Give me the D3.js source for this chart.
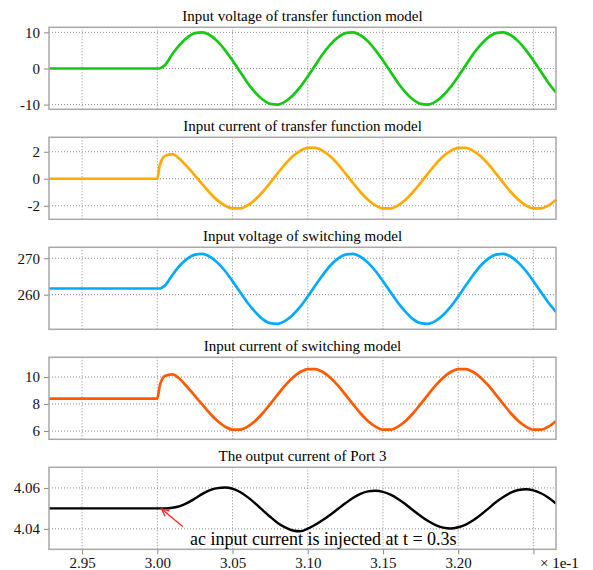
<!DOCTYPE html>
<html lang="en">
<head>
  <meta charset="UTF-8">
  <title>Waveforms</title>
  <style>
    body { margin: 0; background: #fff; }
    .grid line { stroke: #888; stroke-width: 1; stroke-dasharray: 1,2; }
    .frame { fill: none; stroke: #a8a8a8; stroke-width: 1.5; }
  </style>
</head>
<body>
  <div id="chart"></div>
  <script src="https://cdn.jsdelivr.net/npm/d3@7"></script>
  <script>
    // time axis in units of 1e-1 s
    var time = [2.928, 3.000, 3.0015, 3.003,
      3.005, 3.010, 3.015, 3.020, 3.025, 3.030, 3.035, 3.040, 3.045, 3.050,
      3.055, 3.060, 3.065, 3.070, 3.075, 3.080, 3.085, 3.090, 3.095, 3.100,
      3.105, 3.110, 3.115, 3.120, 3.125, 3.130, 3.135, 3.140, 3.145, 3.150,
      3.155, 3.160, 3.165, 3.170, 3.175, 3.180, 3.185, 3.190, 3.195, 3.200,
      3.205, 3.210, 3.215, 3.220, 3.225, 3.230, 3.235, 3.240, 3.245, 3.250,
      3.255, 3.260, 3.265];

    var vinTf = [0, 0, 0, 0.3,
      0.9, 4.0, 6.6, 8.6, 9.8, 10.0, 9.2, 7.5, 5.1, 2.2,
      -0.9, -4.0, -6.6, -8.6, -9.8, -10.0, -9.2, -7.5, -5.1, -2.2,
      0.9, 4.0, 6.6, 8.6, 9.8, 10.0, 9.2, 7.5, 5.1, 2.2,
      -0.9, -4.0, -6.6, -8.6, -9.8, -10.0, -9.2, -7.5, -5.1, -2.2,
      0.9, 4.0, 6.6, 8.6, 9.8, 10.0, 9.2, 7.5, 5.1, 2.2,
      -0.9, -4.0, -6.6];

    var iinTf = [0, 0, 0.95, 1.4,
      1.68, 1.82, 1.45, 0.88, 0.24, -0.42, -1.05, -1.6, -1.98, -2.19,
      -2.19, -1.97, -1.55, -0.98, -0.30, 0.40, 1.08, 1.66, 2.07, 2.29,
      2.29, 2.07, 1.66, 1.08, 0.40, -0.30, -0.98, -1.55, -1.97, -2.19,
      -2.19, -1.97, -1.55, -0.98, -0.30, 0.40, 1.08, 1.66, 2.07, 2.29,
      2.29, 2.07, 1.66, 1.08, 0.40, -0.30, -0.98, -1.55, -1.97, -2.19,
      -2.19, -1.97, -1.55];

    var vinSw = [261.7, 261.7, 261.7, 261.9,
      262.5, 265.4, 268.0, 269.9, 271.0, 271.2, 270.4, 268.8, 266.5, 263.7,
      260.7, 257.8, 255.3, 253.3, 252.2, 252.0, 252.8, 254.4, 256.7, 259.5,
      262.5, 265.4, 268.0, 269.9, 271.0, 271.2, 270.4, 268.8, 266.5, 263.7,
      260.7, 257.8, 255.3, 253.3, 252.2, 252.0, 252.8, 254.4, 256.7, 259.5,
      262.5, 265.4, 268.0, 269.9, 271.0, 271.2, 270.4, 268.8, 266.5, 263.7,
      260.7, 257.8, 255.3];

    var iinSw = [8.4, 8.4, 9.3, 9.8,
      10.08, 10.2, 9.85, 9.25, 8.6, 7.95, 7.3, 6.75, 6.33, 6.1,
      6.11, 6.33, 6.75, 7.32, 8.0, 8.7, 9.38, 9.95, 10.37, 10.59,
      10.59, 10.37, 9.95, 9.38, 8.70, 8.0, 7.32, 6.75, 6.33, 6.11,
      6.11, 6.33, 6.75, 7.32, 8.0, 8.7, 9.38, 9.95, 10.37, 10.59,
      10.59, 10.37, 9.95, 9.38, 8.70, 8.0, 7.32, 6.75, 6.33, 6.11,
      6.11, 6.33, 6.75];

    var ioutPort3 = [4.0500, 4.0500, 4.0500, 4.0500,
      4.0500, 4.0503, 4.0511, 4.0527, 4.0548, 4.0571, 4.0589, 4.0599, 4.0602, 4.0596,
      4.0580, 4.0555, 4.0525, 4.0492, 4.0459, 4.0429, 4.0407, 4.0392, 4.0388, 4.0401,
      4.0420, 4.0443, 4.0469, 4.0497, 4.0525, 4.0551, 4.0571, 4.0583, 4.0586, 4.0581,
      4.0567, 4.0546, 4.0520, 4.0491, 4.0463, 4.0438, 4.0418, 4.0406, 4.0402, 4.0408,
      4.0421, 4.0442, 4.0469, 4.0499, 4.0530, 4.0556, 4.0577, 4.0590, 4.0594, 4.0588,
      4.0574, 4.0552, 4.0524];

    var titles = [
      'Input voltage of transfer function model',
      'Input current of transfer function model',
      'Input voltage of switching model',
      'Input current of switching model',
      'The output current of Port 3'
    ];
    var xTicks = [2.95, 3.00, 3.05, 3.10, 3.15, 3.20, 3.25];
    var yTicks = [[-10, 0, 10], [-2, 0, 2], [260, 270], [6, 8, 10], [4.04, 4.06]];
    var yDomains = [[-11.3, 11.4], [-3.0, 3.07], [250.5, 273.0], [5.39, 11.46], [4.030, 4.0701]];
    var colors = ['#14c814', '#ffaa00', '#00aaff', '#ff5a00', '#000000'];
    var yFormats = ['d', 'd', 'd', 'd', '.2f'];
    var series = [vinTf, iinTf, vinSw, iinSw, ioutPort3];

    var SERIF = '"Liberation Serif", "Times New Roman", Times, serif';
    var W = 593, H = 570;
    var left = 49, right = 556, top0 = 27.3, ph = 82, step = 110;

    var svg = d3.select('#chart').append('svg')
      .attr('width', W)
      .attr('height', H);

    var x = d3.scaleLinear().domain([2.928, 3.265]).range([left, right]);

    var defs = svg.append('defs');

    function styleTicks(axisG) {
      axisG.attr('font-family', null).attr('font-size', null);
      axisG.select('.domain').remove();
      axisG.selectAll('.tick line').attr('stroke', '#888');
      axisG.selectAll('.tick text')
        .attr('fill', '#111')
        .style('font-family', SERIF)
        .style('font-size', '15px');
    }

    series.forEach(function (vals, i) {
      var top = top0 + i * step;
      var y = d3.scaleLinear().domain(yDomains[i]).range([top + ph, top]);
      var g = svg.append('g');

      defs.append('clipPath').attr('id', 'clip' + i)
        .append('rect')
        .attr('x', left).attr('y', top)
        .attr('width', right - left).attr('height', ph);

      // dotted grid
      var grid = g.append('g').attr('class', 'grid');
      grid.selectAll('line.gx').data(xTicks).enter().append('line')
        .attr('x1', d => x(d)).attr('x2', d => x(d))
        .attr('y1', top).attr('y2', top + ph);
      grid.selectAll('line.gy').data(yTicks[i]).enter().append('line')
        .attr('x1', left).attr('x2', right)
        .attr('y1', d => y(d)).attr('y2', d => y(d));

      // y axis
      var fmt = d3.format(yFormats[i]);
      var ya = g.append('g')
        .attr('transform', 'translate(' + left + ',0)')
        .call(d3.axisLeft(y).tickValues(yTicks[i]).tickSize(5).tickPadding(4)
          .tickFormat(d => fmt(d).replace('\u2212', '-')));
      styleTicks(ya);

      // x axis only on the last panel
      if (i === series.length - 1) {
        var xa = g.append('g')
          .attr('transform', 'translate(0,' + (top + ph) + ')')
          .call(d3.axisBottom(x).tickValues(xTicks).tickSize(5).tickPadding(3)
            .tickFormat(d => d === 3.25 ? '' : d3.format('.2f')(d)));
        styleTicks(xa);
        xa.selectAll('.tick text').attr('dy', '0.7em');
      }

      // waveform
      var line = d3.line()
        .x((d, k) => x(time[k]))
        .y(d => y(d))
        .curve(d3.curveMonotoneX);
      g.append('path')
        .datum(vals)
        .attr('clip-path', 'url(#clip' + i + ')')
        .attr('fill', 'none')
        .attr('stroke', colors[i])
        .attr('stroke-width', i === 4 ? 2.4 : 2.7)
        .attr('stroke-linejoin', 'round')
        .attr('d', line);

      g.append('rect').attr('class', 'frame')
        .attr('x', left).attr('y', top)
        .attr('width', right - left).attr('height', ph);

      g.append('text')
        .attr('x', (left + right) / 2)
        .attr('y', top - 6.3)
        .attr('text-anchor', 'middle')
        .style('font-family', SERIF)
        .style('font-size', '15px')
        .text(titles[i]);

      if (i === series.length - 1) {
        // annotation arrow pointing at the injection instant
        var tip = [x(3.0029), y(4.0497)];
        var tail = [tip[0] + 21, tip[1] + 17.6];
        var ang = Math.atan2(tail[1] - tip[1], tail[0] - tip[0]);
        var ah = 8, spread = 0.45;
        g.append('line')
          .attr('x1', tail[0]).attr('y1', tail[1])
          .attr('x2', tip[0]).attr('y2', tip[1])
          .attr('stroke', '#ff2020').attr('stroke-width', 1.3);
        g.append('path')
          .attr('d', 'M' + (tip[0] + ah * Math.cos(ang - spread)) + ',' + (tip[1] + ah * Math.sin(ang - spread)) +
            'L' + tip[0] + ',' + tip[1] +
            'L' + (tip[0] + ah * Math.cos(ang + spread)) + ',' + (tip[1] + ah * Math.sin(ang + spread)))
          .attr('fill', 'none').attr('stroke', '#ff2020').attr('stroke-width', 1.3);

        g.append('text')
          .attr('x', 190).attr('y', 545)
          .style('font-family', SERIF)
          .style('font-size', '18px')
          .text('ac input current is injected at t = 0.3s');

        g.append('text')
          .attr('x', 540).attr('y', 568)
          .style('font-family', SERIF)
          .style('font-size', '15px')
          .text('\u00d7 1e-1');
      }
    });
  </script>
</body>
</html>
